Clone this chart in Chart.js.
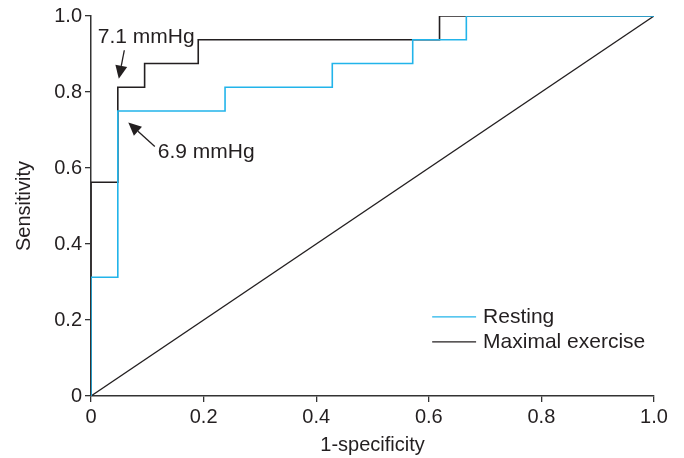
<!DOCTYPE html>
<html>
<head>
<meta charset="utf-8">
<script src="https://cdn.jsdelivr.net/npm/chart.js@4.4.1/dist/chart.umd.min.js"></script>
<style>
  html, body { margin: 0; padding: 0; background: #fff; }
  #wrap { width: 684px; height: 458px; }
</style>
</head>
<body>
<div id="wrap"><canvas id="roc" width="684" height="458"></canvas></div>
<script>
// ROC points (1-specificity, sensitivity); 16 positives, 21 negatives
const restingFpr = [0, 0, 1/21, 5/21, 9/21, 12/21, 14/21, 1];
const restingTpr = [0, 5/16, 12/16, 13/16, 14/16, 15/16, 1, 1];
const maximalFpr = [0, 0, 1/21, 2/21, 4/21, 13/21, 1];
const maximalTpr = [0, 9/16, 13/16, 14/16, 15/16, 1, 1];
const refFpr = [0, 1];
const refTpr = [0, 1];

const tickValues = [0, 0.2, 0.4, 0.6, 0.8, 1.0];
const tickLabels = ['0', '0.2', '0.4', '0.6', '0.8', '1.0'];
const seriesLabels = ['Resting', 'Maximal exercise'];

// cut-off annotations: [fpr, sensitivity, text]
const cutoffs = [
  [1/21, 13/16, '7.1 mmHg'],
  [1/21, 12/16, '6.9 mmHg']
];

const BLUE = '#22b4ea';
const BLACK = '#231f20';
const FONT = '"Liberation Sans", Arial, Helvetica, sans-serif';

function toPoints(xs, ys) {
  return xs.map((x, i) => ({ x: x, y: ys[i] }));
}

function tickLabel(value) {
  const i = tickValues.findIndex(t => Math.abs(t - value) < 1e-6);
  return i >= 0 ? tickLabels[i] : '';
}

function arrow(ctx, x1, y1, x2, y2) {
  const ang = Math.atan2(y2 - y1, x2 - x1);
  const len = 13, half = 6;
  const bx = x2 - len * Math.cos(ang), by = y2 - len * Math.sin(ang);
  ctx.beginPath();
  ctx.moveTo(x1, y1);
  ctx.lineTo(bx, by);
  ctx.stroke();
  ctx.beginPath();
  ctx.moveTo(x2, y2);
  ctx.lineTo(bx + half * Math.sin(ang), by - half * Math.cos(ang));
  ctx.lineTo(bx - half * Math.sin(ang), by + half * Math.cos(ang));
  ctx.closePath();
  ctx.fill();
}

const overlay = {
  id: 'overlay',
  afterDraw(chart) {
    const ctx = chart.ctx;
    const xs = chart.scales.x, ys = chart.scales.y;
    ctx.save();
    ctx.strokeStyle = BLACK;
    ctx.fillStyle = BLACK;
    ctx.lineWidth = 1.3;
    ctx.font = '21px ' + FONT;
    ctx.textBaseline = 'middle';
    ctx.textAlign = 'left';

    // 7.1 mmHg (maximal exercise cut-off)
    let px = xs.getPixelForValue(cutoffs[0][0]);
    let py = ys.getPixelForValue(cutoffs[0][1]);
    ctx.fillText(cutoffs[0][2], px - 20, py - 50);
    arrow(ctx, px + 6.5, py - 37, px + 1, py - 8.5);

    // 6.9 mmHg (resting cut-off)
    px = xs.getPixelForValue(cutoffs[1][0]);
    py = ys.getPixelForValue(cutoffs[1][1]);
    ctx.fillText(cutoffs[1][2], px + 40, py + 41);
    arrow(ctx, px + 37, py + 35.5, px + 10.5, py + 11.5);

    // legend inside the plot
    const lx = xs.getPixelForValue(0.606), lx2 = xs.getPixelForValue(0.684);
    const colors = [BLUE, BLACK];
    seriesLabels.forEach((lab, i) => {
      const y = ys.getPixelForValue(0.208) + i * 25;
      ctx.strokeStyle = colors[i];
      ctx.lineWidth = 1.3;
      ctx.beginPath();
      ctx.moveTo(lx, y);
      ctx.lineTo(lx2, y);
      ctx.stroke();
      ctx.fillStyle = BLACK;
      ctx.fillText(lab, lx2 + 7, y);
    });
    ctx.restore();
  }
};

const ctx = document.getElementById('roc').getContext('2d');
new Chart(ctx, {
  type: 'line',
  data: {
    datasets: [
      {
        label: seriesLabels[0],
        data: toPoints(restingFpr, restingTpr),
        borderColor: BLUE,
        borderWidth: 1.6,
        stepped: 'before',
        pointRadius: 0,
        fill: false
      },
      {
        label: seriesLabels[1],
        data: toPoints(maximalFpr, maximalTpr),
        borderColor: BLACK,
        borderWidth: 1.6,
        stepped: 'before',
        pointRadius: 0,
        fill: false
      },
      {
        label: 'Reference',
        data: toPoints(refFpr, refTpr),
        borderColor: BLACK,
        borderWidth: 1.3,
        pointRadius: 0,
        fill: false
      }
    ]
  },
  options: {
    responsive: false,
    animation: false,
    layout: { padding: { left: 0, top: 16, right: 30, bottom: 0 } },
    plugins: {
      legend: { display: false },
      tooltip: { enabled: false }
    },
    scales: {
      x: {
        type: 'linear',
        min: 0,
        max: 1,
        afterFit: s => { s.height = 62; },
        afterBuildTicks: s => { s.ticks = tickValues.map(v => ({ value: v })); },
        border: { color: '#333', width: 1.5 },
        grid: { display: true, drawOnChartArea: false, drawTicks: true, tickLength: 6, color: '#333', lineWidth: 1.3 },
        ticks: {
          padding: 3,
          color: '#231f20',
          font: { family: FONT, size: 20 },
          maxRotation: 0,
          callback: v => tickLabel(v)
        },
        title: {
          display: true,
          text: '1-specificity',
          color: '#231f20',
          font: { family: FONT, size: 20 },
          padding: { top: 0, bottom: 1 }
        }
      },
      y: {
        type: 'linear',
        min: 0,
        max: 1,
        afterFit: s => { s.width = 91; },
        afterBuildTicks: s => { s.ticks = tickValues.map(v => ({ value: v })); },
        border: { color: '#333', width: 1.5 },
        grid: { display: true, drawOnChartArea: false, drawTicks: true, tickLength: 6, color: '#333', lineWidth: 1.3 },
        ticks: {
          padding: 3,
          color: '#231f20',
          font: { family: FONT, size: 20 },
          callback: v => tickLabel(v)
        },
        title: {
          display: true,
          text: 'Sensitivity',
          color: '#231f20',
          font: { family: FONT, size: 20 },
          padding: { top: 12, bottom: 0 }
        }
      }
    }
  },
  plugins: [overlay]
});
</script>
</body>
</html>
